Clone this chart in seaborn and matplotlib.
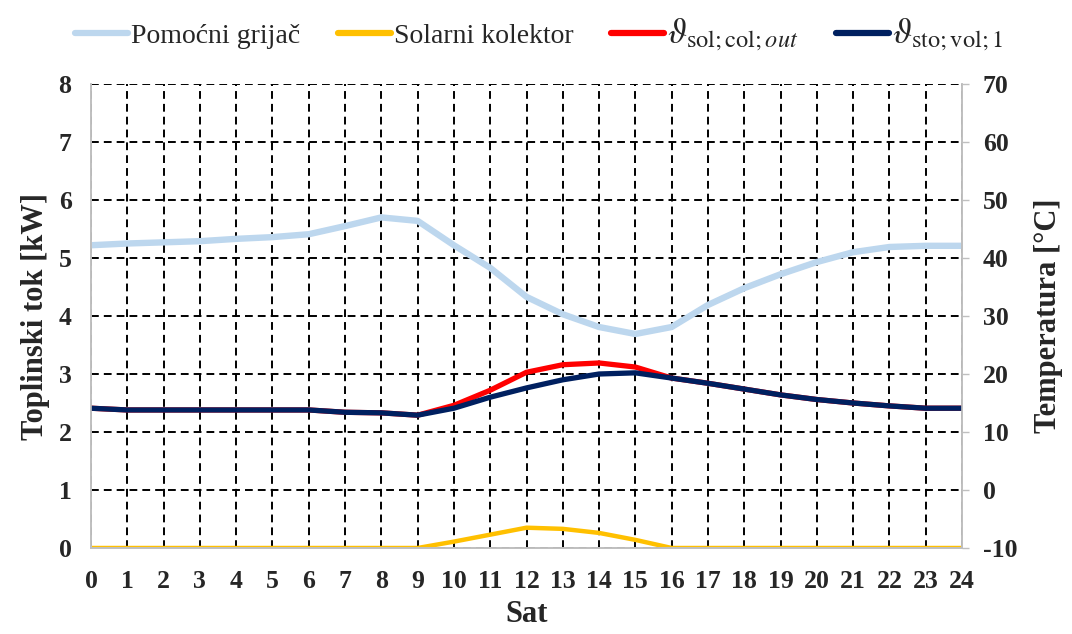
import numpy as np
import pandas as pd
import seaborn as sns
import matplotlib
matplotlib.use("Agg")
import matplotlib.pyplot as plt

# Hourly data (hour of day 0..24)
hours = [0, 1, 2, 3, 4, 5, 6, 7, 8, 9, 10, 11, 12, 13, 14, 15, 16, 17, 18, 19, 20, 21, 22, 23, 24]

# Heat flow [kW]
aux_heater_kw = [5.22, 5.25, 5.27, 5.29, 5.33, 5.36, 5.41, 5.55, 5.70, 5.64, 5.22, 4.83, 4.33,
                 4.03, 3.81, 3.69, 3.81, 4.19, 4.48, 4.72, 4.93, 5.10, 5.19, 5.21, 5.21]
solar_collector_kw = [0, 0, 0, 0, 0, 0, 0, 0, 0, 0, 0.11, 0.23, 0.35,
                      0.33, 0.26, 0.14, 0, 0, 0, 0, 0, 0, 0, 0, 0]

# Temperatures [°C]
t_sol_col_out = [14.1, 13.8, 13.8, 13.8, 13.8, 13.8, 13.8, 13.4, 13.3, 12.9, 14.6, 17.2, 20.3,
                 21.6, 21.9, 21.2, 19.3, 18.4, 17.4, 16.4, 15.6, 15.0, 14.5, 14.1, 14.1]
t_sto_vol_1 = [14.1, 13.8, 13.8, 13.8, 13.8, 13.8, 13.8, 13.4, 13.3, 12.9, 14.1, 16.0, 17.6,
               19.0, 20.0, 20.2, 19.3, 18.4, 17.4, 16.4, 15.6, 15.0, 14.5, 14.1, 14.1]

left_ticks = [0, 1, 2, 3, 4, 5, 6, 7, 8]
right_ticks = [-10, 0, 10, 20, 30, 40, 50, 60, 70]

labels = ["Pomoćni grijač", "Solarni kolektor",
          r"$\vartheta_{\mathrm{sol;col;}\mathit{out}}$",
          r"$\vartheta_{\mathrm{sto;vol;1}}$"]
colors = ["#BDD7EE", "#FFC000", "#FF0000", "#002060"]

df = pd.DataFrame({
    "hour": hours,
    "aux": aux_heater_kw,
    "solar": solar_collector_kw,
    "t_out": t_sol_col_out,
    "t_sto": t_sto_vol_1,
})

sns.set_style("white")
plt.rcParams["font.family"] = ["Liberation Serif", "DejaVu Serif"]
plt.rcParams["mathtext.fontset"] = "stix"

fig = plt.figure(figsize=(10.72, 6.34), dpi=100)
ax = fig.add_axes([91 / 1072, 1 - 548 / 634, (962 - 91) / 1072, (548 - 84) / 634])
ax2 = ax.twinx()

grid_kw = dict(color="black", linewidth=1.4, linestyle=(0, (4, 2.6)))
ax.set_axisbelow(True)
ax.grid(True, axis="both", **grid_kw)

sns.lineplot(data=df, x="hour", y="aux", ax=ax, color=colors[0], linewidth=4.6, label=labels[0], legend=False)
sns.lineplot(data=df, x="hour", y="solar", ax=ax, color=colors[1], linewidth=3.2, label=labels[1], legend=False)
sns.lineplot(data=df, x="hour", y="t_out", ax=ax2, color=colors[2], linewidth=3.8, label=labels[2], legend=False)
sns.lineplot(data=df, x="hour", y="t_sto", ax=ax2, color=colors[3], linewidth=3.8, label=labels[3], legend=False)

ax.set_xlim(0, 24)
ax.set_ylim(0, 8)
ax2.set_ylim(-10, 70)
ax.set_xticks(hours)
ax.set_yticks(left_ticks)
ax2.set_yticks(right_ticks)

tick_font = dict(fontsize=18.5, fontweight="bold")
ax.set_xticklabels([str(h) for h in hours], **tick_font)
ax.set_yticklabels([str(v) for v in left_ticks], **tick_font)
ax2.set_yticklabels([str(v) for v in right_ticks], **tick_font)

ax.tick_params(axis="x", length=0, pad=16)
ax.tick_params(axis="y", length=0, pad=14)
ax2.tick_params(axis="y", length=5, width=1, color="#BFBFBF", direction="out", pad=10)

for a in (ax, ax2):
    a.spines["top"].set_visible(False)
    for side in ("left", "right", "bottom"):
        a.spines[side].set_color("#BFBFBF")
        a.spines[side].set_linewidth(1.2)

label_font = dict(fontsize=22, fontweight="bold")
ax.set_xlabel("Sat", labelpad=5, **label_font)
ax.set_ylabel("Toplinski tok [kW]", labelpad=6, **label_font)
ax2.set_ylabel("Temperatura [°C]", labelpad=12, **label_font)

h1, l1 = ax.get_legend_handles_labels()
h2, l2 = ax2.get_legend_handles_labels()
leg = fig.legend(h1 + h2, l1 + l2, loc="center", bbox_to_anchor=(0.503, 0.945), ncol=4,
                 frameon=False, fontsize=20, handlelength=1.9, handletextpad=0.12,
                 columnspacing=1.35)
for line in leg.get_lines():
    line.set_linewidth(4.5)
for txt in leg.get_texts()[2:]:
    txt.set_fontsize(25)

fig.savefig("out.png", dpi=100)
